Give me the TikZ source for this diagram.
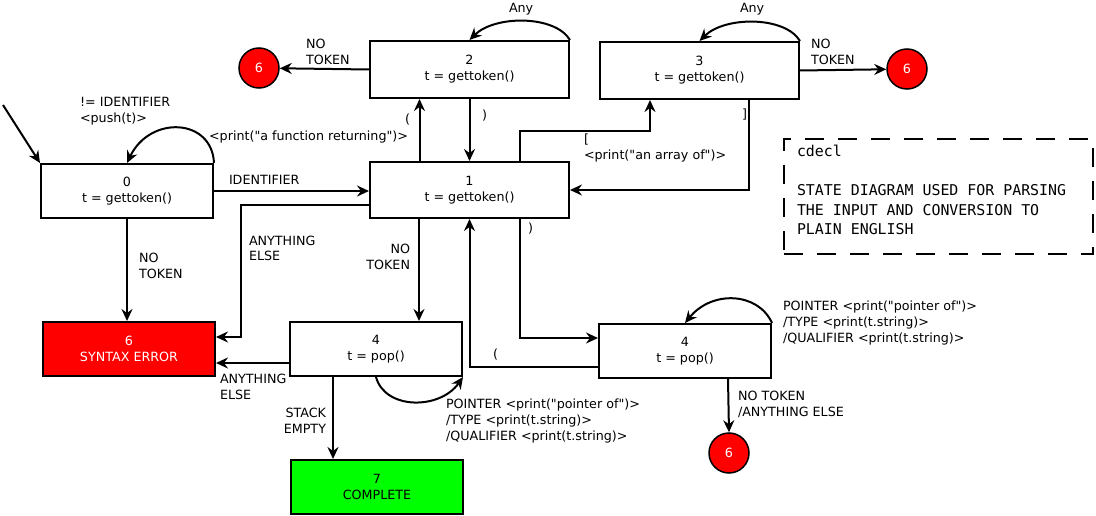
\documentclass[tikz,border=0pt]{standalone}
\usepackage{fontspec}
\setmainfont{DejaVu Sans}[Ligatures=TeXOff]
\setmonofont{DejaVu Sans Mono}
\usetikzlibrary{arrows.meta,calc}
\newcommand\mlleft[1]{\begin{tabular}[t]{@{}l@{}}#1\end{tabular}}
\newcommand\mlright[1]{\begin{tabular}[t]{@{}r@{}}#1\end{tabular}}
\definecolor{errred}{RGB}{255,0,0}
\definecolor{okgreen}{RGB}{0,255,0}
\begin{document}
\begin{tikzpicture}[x=1pt,y=-1pt,line width=2pt,
  every node/.style={font=\fontsize{12.7}{16}\selectfont},
  box/.style={draw,line width=2pt,minimum width=172pt,minimum height=54pt,align=center,inner sep=0pt},
  wbox/.style={box,minimum width=199pt,minimum height=56pt},
  endc/.style={circle,draw,fill=errred,text=white,minimum size=40pt,inner sep=0pt,line width=1.5pt},
  arr/.style={-{Stealth[length=12pt,width=11pt,inset=4pt]},line width=2pt},
  lbl/.style={inner sep=0pt,anchor=base west},
  lblr/.style={inner sep=0pt,anchor=base east},
  notebox/.style={draw,line width=2pt,dash pattern=on 19pt off 14pt,minimum width=309pt,minimum height=115pt,inner sep=0pt}
]
\useasboundingbox[fill=white] (0,0) rectangle (1096,516);

% states
\node[box] (b0) at (127,191) {0\\t = gettoken()};
\node[wbox] (b1) at (469.5,190) {1\\t = gettoken()};
\node[wbox,minimum height=57pt] (b2) at (469.5,69.5) {2\\t = gettoken()};
\node[wbox,minimum height=57pt] (b3) at (699.5,70.5) {3\\t = gettoken()};
\node[box] (b4l) at (376,349) {4\\t = pop()};
\node[box] (b4r) at (685,351) {4\\t = pop()};
\node[box,fill=errred,text=white] (err) at (129,349) {6\\SYNTAX ERROR};
\node[box,fill=okgreen] (done) at (377,487) {7\\COMPLETE};
\node[endc] (c6a) at (259,68) {6};
\node[endc] (c6b) at (907,69) {6};
\node[endc] (c6c) at (729,453) {6};

% note
\node[notebox] (note) at (938.5,196.5) {};
\node[inner sep=0pt,anchor=base west,font=\ttfamily\fontsize{14.9}{19.5}\selectfont] (notetext) at (796,157)
  {\mlleft{cdecl\\ \\STATE DIAGRAM USED FOR PARSING\\THE INPUT AND CONVERSION TO\\PLAIN ENGLISH}};

% start
\coordinate (start) at (3,105);
\draw[arr] (start) -- (b0.north west);

% loop on 0
\draw[arr] (b0.north east) .. controls (212,118) and (150,115) .. (b0.north);
\node[lbl] (l0loop) at (79,107) {\mlleft{!= IDENTIFIER\\<push(t)>}};

% 0 -> 1
\draw[arr] (b0.east) -- (b0.east -| b1.west);
\node[lbl] (lid) at (228,185) {IDENTIFIER};

% 1 -> error
\draw[arr] ($(b1.west)+(0,15)$) -- (241,205) -- (241,337) -- ($(err.east)+(0,-12)$);
\node[lbl] (lae1) at (248,245) {\mlleft{ANYTHING\\ELSE}};

% 0 -> error
\draw[arr] (b0.south) -- (b0.south |- err.north);
\node[lbl] (lnt0) at (138,262) {\mlleft{NO\\TOKEN}};

% 1 -> 2
\draw[arr] ($(b1.north)+(-50,0)$) -- ($(b2.south)+(-50,0)$);
\node[lbl] (lpar) at (404,124) {(};
\node[lblr] (lfunc) at (409,141) {<print("a function returning")>};

% 2 -> 1
\draw[arr] (b2.south) -- (b1.north);
\node[lbl] (lcp1) at (481,120) {)};

% 2 -> 6
\draw[arr] (b2.west) -- (c6a);
\node[lbl] (lnt2) at (305,49) {\mlleft{NO\\TOKEN}};

% loop on 2
\draw[arr] (b2.north east) .. controls (555,15) and (495,15) .. (b2.north);
\node[lbl] (lany2) at (508,13) {Any};

% 1 -> 3
\draw[arr] ($(b1.north)+(50.5,0)$) -- (520,131) -- (650,131) -- ($(b3.south)+(-49.5,0)$);
\node[lbl] (lbr) at (583,144) {[};
\node[lbl] (larr) at (583,160) {<print("an array of")>};

% 3 -> 1
\draw[arr] ($(b3.south)+(49.5,0)$) -- (749,190) -- (b1.east);
\node[lbl] (lrbr) at (741,119) {]};

% loop on 3
\draw[arr] (b3.north east) .. controls (785,16) and (725,16) .. (b3.north);
\node[lbl] (lany3) at (739,13) {Any};

% 3 -> 6
\draw[arr] (b3.east) -- (c6b);
\node[lbl] (lnt3) at (810,49) {\mlleft{NO\\TOKEN}};

% 1 -> 4 (left)
\draw[arr] ($(b1.south)+(-50.5,0)$) -- ($(b4l.north)+(43,0)$);
\node[lblr] (lnt1) at (411,254) {\mlright{NO\\TOKEN}};

% 1 -> 4 (right)
\draw[arr] ($(b1.south)+(50.5,0)$) |- ($(b4r.west)+(0,-13)$);
\node[lbl] (lcp2) at (527,233) {)};

% 4 (right) -> 1
\draw[arr] ($(b4r.west)+(0,16)$) -| (b1.south);
\node[lbl] (lop2) at (492,358) {(};

% loop on 4 (right)
\draw[arr] (b4r.north east) .. controls (758,292) and (712,290) .. (b4r.north);
\node[lbl] (lptr2) at (782,310) {\mlleft{POINTER <print("pointer of")>\\/TYPE <print(t.string)>\\/QUALIFIER <print(t.string)>}};

% 4 (right) -> 6
\draw[arr] ($(b4r.south)+(43,0)$) -- (c6c.north);
\node[lbl] (lnt4) at (737,400) {\mlleft{NO TOKEN\\/ANYTHING ELSE}};

% 4 (left) -> error
\draw[arr] ($(b4l.west)+(0,14)$) -- ($(err.east)+(0,14)$);
\node[lbl] (lae2) at (219,383) {\mlleft{ANYTHING\\ELSE}};

% 4 (left) -> complete
\draw[arr] ($(b4l.south)+(-43,0)$) -- ($(done.north)+(-44,0)$);
\node[lblr] (lse) at (327,417) {\mlright{STACK\\EMPTY}};

% loop on 4 (left)
\draw[arr] (b4l.south) .. controls (385,410) and (440,410) .. (b4l.south east);
\node[lbl] (lptr1) at (445,408) {\mlleft{POINTER <print("pointer of")>\\/TYPE <print(t.string)>\\/QUALIFIER <print(t.string)>}};
\end{tikzpicture}
\end{document}
